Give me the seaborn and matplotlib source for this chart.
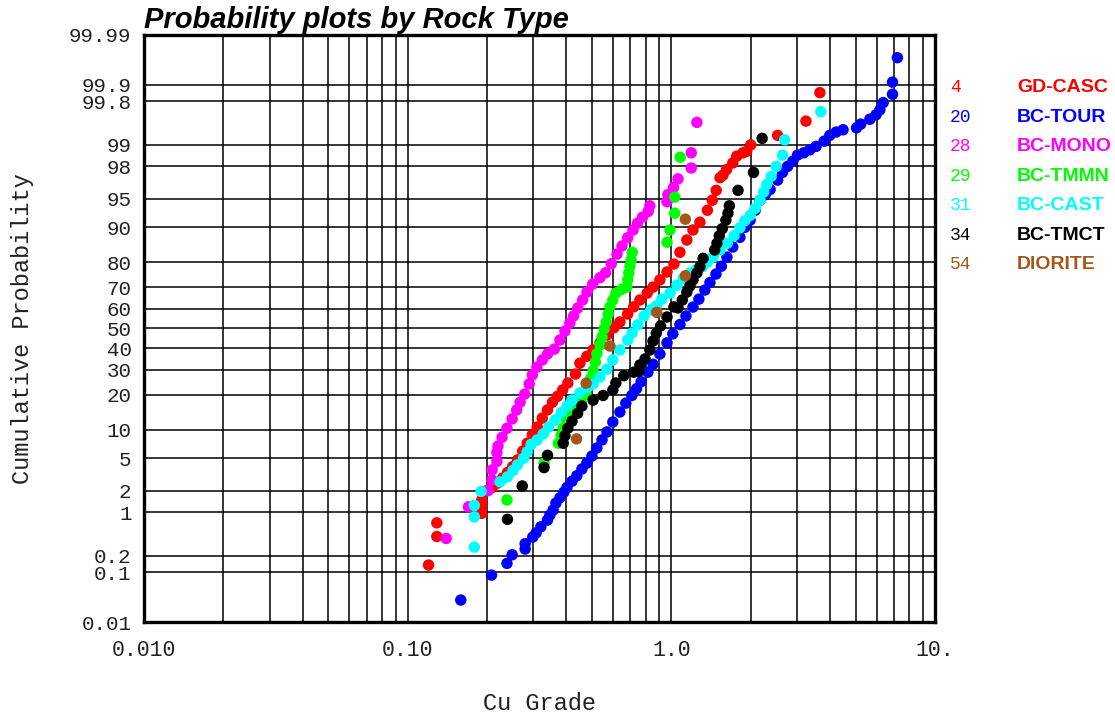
import statistics
import numpy as np
import pandas as pd
import matplotlib
matplotlib.use("Agg")
import matplotlib.pyplot as plt
import seaborn as sns

# ---------------- data (Cu grade, cumulative probability in %) ----------------
rock_codes = ["4", "20", "28", "29", "31", "34", "54"]
rock_names = ["GD-CASC", "BC-TOUR", "BC-MONO", "BC-TMMN", "BC-CAST", "BC-TMCT", "DIORITE"]
rock_colors = ["#ff0000", "#0000ff", "#ff00ff", "#00ff00", "#00ffff", "#000000", "#a3581a"]

gd_casc_grade = [0.120, 0.129, 0.129, 0.191, 0.191, 0.191, 0.200, 0.209, 0.219, 0.229, 0.239,
                 0.250, 0.261, 0.273, 0.284, 0.297, 0.310, 0.324, 0.339, 0.354, 0.370, 0.387,
                 0.405, 0.433, 0.450, 0.478, 0.505, 0.536, 0.570, 0.605, 0.638, 0.683, 0.720,
                 0.760, 0.810, 0.852, 0.905, 0.963, 1.023, 1.078, 1.145, 1.208, 1.284, 1.370,
                 1.43, 1.48, 1.53, 1.57, 1.62, 1.71, 1.77, 1.87, 1.93, 2.00, 2.53, 3.24, 3.66]
gd_casc_prob = [0.136, 0.42, 0.69, 0.96, 1.25, 1.49, 2.0, 2.2, 2.5, 2.9, 3.4,
                4.0, 4.8, 6.0, 7.3, 8.9, 10.6, 12.8, 15.1, 17.5, 19.5, 21.8,
                24.5, 28.2, 33.0, 36.2, 39.3, 42.7, 46.7, 50.3, 53.3, 57.3, 60.8,
                64.1, 67.3, 70.0, 73.1, 76.3, 79.3, 83.3, 86.9, 89.4, 91.1, 93.3,
                94.8, 96.0, 97.2, 97.4, 97.8, 98.2, 98.55, 98.7, 98.76, 99.0, 99.28, 99.57, 99.86]

bc_tour_grade = [0.159, 0.208, 0.238, 0.249, 0.279, 0.279, 0.298, 0.307, 0.320, 0.339, 0.346,
                 0.356, 0.365, 0.378, 0.391, 0.402, 0.420, 0.438, 0.458, 0.478, 0.500, 0.522,
                 0.546, 0.570, 0.600, 0.638, 0.672, 0.708, 0.738, 0.768, 0.815, 0.852, 0.905,
                 0.963, 1.013, 1.078, 1.136, 1.208, 1.272, 1.340, 1.401, 1.477, 1.548, 1.625,
                 1.71, 1.82, 1.90, 1.99, 2.08, 2.17, 2.27, 2.37, 2.53, 2.64, 2.76, 2.89, 3.01,
                 3.18, 3.35, 3.54, 3.80, 3.99, 4.22, 4.48, 5.04, 5.23, 5.66, 5.97, 6.18, 6.36,
                 6.9, 6.9, 7.2]
bc_tour_prob = [0.029, 0.089, 0.146, 0.207, 0.26, 0.32, 0.41, 0.48, 0.60, 0.76, 0.90,
                1.07, 1.35, 1.60, 1.9, 2.2, 2.65, 3.1, 3.75, 4.4, 5.3, 6.5,
                7.9, 9.5, 11.8, 14.5, 17.2, 19.8, 22.3, 25.0, 29.0, 32.5, 37.3,
                42.8, 47.3, 52.0, 56.3, 60.7, 64.5, 68.7, 72.0, 75.5, 78.5, 81.7,
                84.9, 87.6, 90.0, 91.5, 93.3, 94.8, 95.5, 96.1, 97.0, 97.6, 98.0, 98.3, 98.6,
                98.7, 98.82, 98.95, 99.12, 99.28, 99.36, 99.41, 99.45, 99.52, 99.60, 99.66, 99.72, 99.79,
                99.85, 99.91, 99.97]

bc_mono_grade = [0.140, 0.170, 0.202, 0.209, 0.209, 0.218, 0.218, 0.220, 0.228, 0.238, 0.249,
                 0.259, 0.267, 0.278, 0.289, 0.297, 0.309, 0.324, 0.339, 0.360, 0.378, 0.395,
                 0.412, 0.426, 0.442, 0.461, 0.479, 0.503, 0.536, 0.563, 0.592, 0.622, 0.650,
                 0.683, 0.716, 0.744, 0.778, 0.817, 0.829, 0.963, 0.97, 1.02, 1.06, 1.19, 1.19, 1.25]
bc_mono_prob = [0.39, 1.19, 2.0, 2.74, 3.65, 4.6, 5.8, 6.8, 8.4, 10.3, 12.6,
                15.1, 17.5, 20.3, 24.1, 27.8, 31.2, 34.5, 37.3, 39.7, 44.2, 48.7,
                52.8, 56.3, 60.3, 64.1, 67.8, 71.3, 74.0, 76.0, 79.4, 82.7, 85.2,
                87.5, 89.4, 90.9, 92.1, 93.1, 94.0, 94.6, 95.5, 96.3, 97.1, 97.9, 98.7, 99.55]

bc_tmmn_grade = [0.238, 0.329, 0.373, 0.382, 0.389, 0.401, 0.412, 0.433, 0.455, 0.475, 0.487,
                 0.495, 0.505, 0.515, 0.522, 0.536, 0.546, 0.556, 0.566, 0.576, 0.585, 0.600,
                 0.616, 0.648, 0.678, 0.683, 0.690, 0.697, 0.704, 0.711, 0.963, 0.988, 1.03,
                 1.03, 1.08]
bc_tmmn_prob = [1.49, 4.4, 7.3, 8.8, 10.3, 12.3, 14.3, 16.0, 17.6, 20.2, 23.3,
                26.5, 29.6, 33.6, 37.5, 41.7, 45.7, 49.8, 53.3, 57.3, 60.8, 64.1,
                67.3, 69.0, 70.0, 73.1, 75.9, 78.5, 80.7, 83.3, 86.3, 89.4, 92.8,
                95.2, 98.5]

bc_cast_grade = [0.179, 0.179, 0.179, 0.190, 0.224, 0.239, 0.251, 0.261, 0.275, 0.284, 0.294,
                 0.310, 0.327, 0.343, 0.362, 0.382, 0.402, 0.420, 0.450, 0.478, 0.505, 0.536,
                 0.570, 0.600, 0.638, 0.683, 0.710, 0.746, 0.788, 0.836, 0.877, 0.92, 0.988,
                 1.05, 1.11, 1.176, 1.24, 1.31, 1.37, 1.44, 1.53, 1.63, 1.73, 1.82, 1.90,
                 1.99, 2.08, 2.17, 2.24, 2.30, 2.39, 2.50, 2.64, 2.69, 3.69]
bc_cast_prob = [0.28, 0.85, 1.25, 1.95, 2.6, 3.0, 3.6, 4.2, 5.0, 5.9, 7.1,
                7.9, 9.1, 10.6, 12.3, 14.3, 16.3, 18.2, 20.7, 22.6, 24.1, 26.9,
                30.3, 34.5, 39.3, 44.2, 47.7, 51.8, 56.3, 59.3, 61.2, 64.5, 67.3,
                70.8, 73.8, 75.8, 77.1, 78.3, 80.0, 81.7, 84.0, 86.0, 88.0, 89.9, 91.4,
                92.4, 93.6, 94.8, 95.8, 96.6, 97.3, 98.0, 98.6, 99.16, 99.70]

bc_tmct_grade = [0.239, 0.272, 0.329, 0.339, 0.389, 0.395, 0.405, 0.420, 0.441, 0.458, 0.505,
                 0.551, 0.600, 0.616, 0.660, 0.720, 0.753, 0.760, 0.795, 0.829, 0.852, 0.877,
                 0.91, 0.963, 1.023, 1.06, 1.10, 1.145, 1.176, 1.208, 1.25, 1.284, 1.32,
                 1.46, 1.49, 1.52, 1.56, 1.61, 1.64, 1.66, 1.79, 2.05, 2.21]
bc_tmct_prob = [0.78, 2.3, 3.9, 5.4, 7.3, 8.7, 10.3, 12.0, 14.1, 16.3, 18.2,
                19.8, 21.8, 24.5, 27.5, 29.0, 29.4, 32.2, 35.0, 39.3, 43.7, 47.7,
                51.3, 55.8, 60.8, 60.3, 64.1, 67.8, 70.5, 73.1, 75.9, 78.3, 81.3,
                84.0, 86.0, 88.0, 89.7, 91.5, 92.8, 94.0, 96.0, 97.6, 99.2]

diorite_grade = [0.437, 0.475, 0.585, 0.88, 1.13, 1.13]
diorite_prob = [8.1, 24.4, 41.2, 58.1, 74.8, 91.7]

series_grade = [gd_casc_grade, bc_tour_grade, bc_mono_grade, bc_tmmn_grade,
                bc_cast_grade, bc_tmct_grade, diorite_grade]
series_prob = [gd_casc_prob, bc_tour_prob, bc_mono_prob, bc_tmmn_prob,
               bc_cast_prob, bc_tmct_prob, diorite_prob]

x_ticks = [0.01, 0.1, 1.0, 10.0]
x_tick_labels = ["0.010", "0.10", "1.0", "10."]
y_ticks = [0.01, 0.1, 0.2, 1, 2, 5, 10, 20, 30, 40, 50, 60, 70, 80, 90, 95, 98, 99, 99.8, 99.9, 99.99]
y_tick_labels = ["0.01", "0.1", "0.2", "1", "2", "5", "10", "20", "30", "40", "50", "60",
                 "70", "80", "90", "95", "98", "99", "99.8", "99.9", "99.99"]

rows = []
for name, g, p in zip(rock_names, series_grade, series_prob):
    for gi, pi in zip(g, p):
        rows.append((name, gi, pi))
df = pd.DataFrame(rows, columns=["rock", "grade", "prob"])

# ---------------- probability scale ----------------
_nd = statistics.NormalDist()
_ppf = np.vectorize(_nd.inv_cdf, otypes=[float])
_cdf = np.vectorize(_nd.cdf, otypes=[float])


def prob_forward(p):
    p = np.clip(np.asarray(p, dtype=float) / 100.0, 1e-9, 1 - 1e-9)
    return _ppf(p)


def prob_inverse(z):
    return 100.0 * _cdf(np.asarray(z, dtype=float))


sns.set_style("white")
plt.rcParams["font.family"] = ["Liberation Mono", "DejaVu Sans Mono"]

W, H = 1115, 715
fig = plt.figure(figsize=(W / 100, H / 100), dpi=100)
L, R, T, B = 144, 935, 35, 622
ax = fig.add_axes([L / W, 1 - B / H, (R - L) / W, (B - T) / H])

sns.scatterplot(data=df, x="grade", y="prob", hue="rock", hue_order=rock_names,
                palette=dict(zip(rock_names, rock_colors)), s=68, linewidth=0,
                edgecolor="none", legend=False, ax=ax, zorder=3)

ax.set_xscale("log")
ax.set_yscale("function", functions=(prob_forward, prob_inverse))
ax.set_xlim(0.01, 10)
ax.set_ylim(0.01, 99.99)

ax.set_xticks(x_ticks)
ax.set_xticklabels(x_tick_labels)
ax.xaxis.set_minor_locator(matplotlib.ticker.LogLocator(base=10, subs=np.arange(2, 10)))
ax.xaxis.set_minor_formatter(matplotlib.ticker.NullFormatter())
ax.set_yticks(y_ticks)
ax.set_yticklabels(y_tick_labels)
ax.yaxis.set_minor_locator(matplotlib.ticker.NullLocator())

ax.grid(True, which="both", axis="x", color="black", linewidth=1.1)
ax.grid(True, which="major", axis="y", color="black", linewidth=1.1)
ax.set_axisbelow(True)
ax.tick_params(axis="both", which="both", length=0)
ax.tick_params(axis="x", labelsize=15.5, pad=13, colors="#222222")
ax.tick_params(axis="y", labelsize=15, pad=9, colors="#222222")
for sp in ax.spines.values():
    sp.set_visible(True)
    sp.set_color("black")
    sp.set_linewidth(2.4)

ax.set_xlabel("Cu Grade", fontsize=17, color="#222222")
ax.set_ylabel("Cumulative Probability", fontsize=17, color="#222222")
ax.xaxis.set_label_coords(0.5, (B - 692) / (B - T))
ax.yaxis.set_label_coords((34 - L) / (R - L), 0.5)

ax.set_title("Probability plots by Rock Type", loc="left", pad=5,
             fontsize=21, fontweight="bold", fontstyle="italic", color="black",
             family=["Liberation Sans", "DejaVu Sans"])

# legend on the right
row_y0, row_dy = 88, 29.4
for i, (code, name, col) in enumerate(zip(rock_codes, rock_names, rock_colors)):
    yy = 1 - (row_y0 + i * row_dy) / H
    fig.text(950 / W, yy, code, color=col, fontsize=13, va="center", ha="left",
             family=["Liberation Mono", "DejaVu Sans Mono"])
    fig.text(1017 / W, yy, name, color=col, fontsize=14, fontweight="bold",
             va="center", ha="left", family=["Liberation Sans", "DejaVu Sans"])

fig.savefig("out.png", dpi=100)
